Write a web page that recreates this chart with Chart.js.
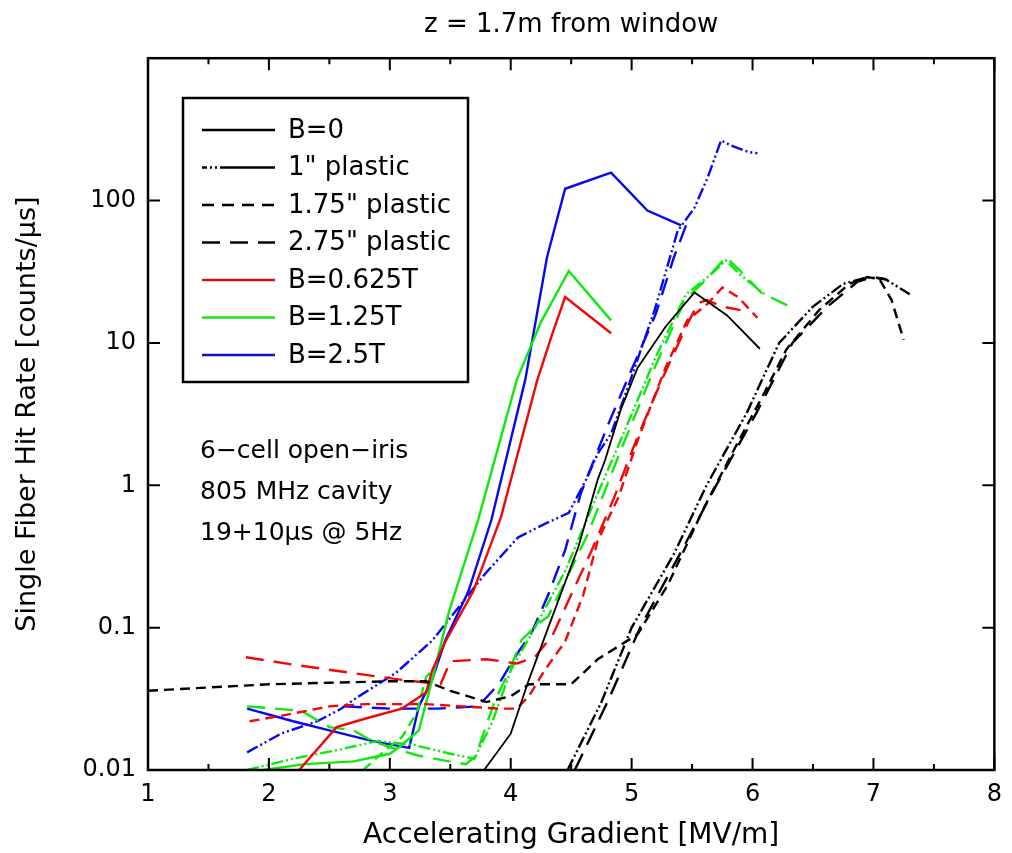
<!DOCTYPE html>
<html><head><meta charset="utf-8">
<script src="https://cdn.jsdelivr.net/npm/chart.js@4"></script>
<style>html,body{margin:0;padding:0;background:#fff}canvas{display:block}</style>
</head><body>
<canvas id="c" width="1012" height="853"></canvas>
<script>
const chartTitle = 'z = 1.7m from window';
const xTitle = 'Accelerating Gradient [MV/m]';
const yTitle = 'Single Fiber Hit Rate [counts/\u03bcs]';
const xTickValues = [1,2,3,4,5,6,7,8];
const xMinorTickValues = [1.5,2.5,3.5,4.5,5.5,6.5,7.5];
const yTickValues = [0.01,0.1,1,10,100];
const yTickLabels = ['0.01','0.1','1','10','100'];
const noteLines = ['6\u2212cell open\u2212iris','805 MHz cavity','19+10\u03bcs @ 5Hz'];
const legendLabels = ['B=0','1" plastic','1.75" plastic','2.75" plastic','B=0.625T','B=1.25T','B=2.5T'];

// Black (B=0)
const k0X = [3.78,4.0,4.15,4.29,4.56,4.72,4.78,4.91,5.05,5.28,5.52,5.79,6.06];
const k0Y = [0.01,0.018,0.043,0.09,0.37,1.1,1.5,3.4,6.7,13,22.6,15.6,9.1];
const k1X = [4.47,4.75,5.0,5.35,5.62,5.95,6.22,6.5,6.75,6.95,7.1,7.3];
const k1Y = [0.01,0.03,0.1,0.33,1.0,3.2,10,18,26,29,28,22];
const k2X = [1.0,1.5,2.0,2.5,3.0,3.3,3.5,3.8,4.0,4.15,4.5,4.72,5.05,5.3,5.6,5.85,6.1,6.28,6.55,6.8,6.95,7.05,7.15,7.25];
const k2Y = [0.036,0.038,0.04,0.041,0.042,0.042,0.036,0.03,0.033,0.04,0.04,0.06,0.09,0.2,0.7,1.8,4.5,9,17,26,29,28,20,10.5];
const k3X = [4.53,4.8,5.07,5.4,5.7,6.03,6.33,6.62,6.87,7.0,7.1];
const k3Y = [0.01,0.03,0.1,0.33,1.0,3.2,10,18,27,29,28];
// Red (B=0.625T)
const r0X = [2.25,2.56,2.8,3.1,3.3,3.35,3.46,3.69,3.92,4.22,4.35,4.45,4.83];
const r0Y = [0.01,0.02,0.023,0.027,0.035,0.05,0.08,0.18,0.6,5.5,12,21,11.7];
const r2X = [1.84,2.1,2.5,2.8,3.3,3.6,3.9,4.05,4.15,4.28,4.45,4.6,4.72,4.89,5.05,5.28,5.46,5.63,5.75,5.88,6.04];
const r2Y = [0.022,0.024,0.028,0.029,0.029,0.028,0.027,0.027,0.033,0.05,0.08,0.17,0.41,0.82,2.07,6.7,14.4,18.9,24.5,21,15];
const r3X = [1.81,2.2,2.69,3.1,3.42,3.5,3.8,4.05,4.2,4.35,4.5,4.67,4.85,5.05,5.25,5.45,5.55,5.62,5.75,5.9];
const r3Y = [0.062,0.055,0.048,0.043,0.04,0.058,0.06,0.056,0.062,0.09,0.17,0.35,0.8,2.2,5.5,13,19,20,18,17];
// Green (B=1.25T)
const g0X = [1.95,2.3,2.7,3.0,3.08,3.24,3.35,3.49,3.73,4.05,4.25,4.48,4.83];
const g0Y = [0.01,0.011,0.0115,0.013,0.0145,0.019,0.043,0.13,0.57,5.5,14,32,14.4];
const g1X = [1.82,2.2,2.6,2.9,3.2,3.5,3.7,3.85,4.0,4.2,4.45,4.7,4.95,5.2,5.45,5.65,5.78,5.9,6.1];
const g1Y = [0.01,0.012,0.014,0.016,0.015,0.013,0.012,0.022,0.05,0.1,0.25,0.8,2.5,8,22,30,38,30,22];
const g2X = [2.78,2.95,3.1,3.22,3.3,3.35];
const g2Y = [0.01,0.0135,0.017,0.025,0.045,0.05];
const g3X = [1.82,2.05,2.27,2.5,2.7,2.85,3.0,3.24,3.49,3.63,3.71,3.87,3.98,4.09,4.23,4.31,4.64,4.91,5.19,5.44,5.6,5.78,5.9,6.07,6.29];
const g3Y = [0.028,0.027,0.026,0.02,0.019,0.016,0.0145,0.0126,0.0115,0.011,0.0125,0.031,0.048,0.082,0.107,0.12,0.46,1.76,6.7,20,27,40,32,22.6,18.3];
// Blue (B=2.5T)
const b0X = [1.82,2.2,2.5,2.85,3.16,3.24,3.35,3.46,3.65,3.84,4.12,4.3,4.45,4.83,5.13,5.41];
const b0Y = [0.027,0.022,0.019,0.016,0.0143,0.028,0.043,0.082,0.18,0.57,5.5,40,121,157,85,67];
const b1X = [1.82,2.1,2.4,2.6,2.72,3.05,3.35,3.6,3.79,4.06,4.29,4.48,4.62,4.72,4.83,4.97,5.19,5.38,5.52,5.63,5.74,5.82,5.96,6.04];
const b1Y = [0.0133,0.018,0.022,0.027,0.032,0.048,0.081,0.15,0.24,0.43,0.54,0.64,1.08,1.67,2.3,4.9,17,61,89,146,265,244,220,215];
const b3X = [2.62,3.0,3.4,3.73,3.9,4.05,4.17,4.31,4.45,4.58,4.8,5.0,5.2,5.35,5.45];
const b3Y = [0.028,0.027,0.027,0.028,0.04,0.065,0.091,0.17,0.35,0.88,2.6,6.5,16,40,67];

const BLACK = '#000000', RED = '#f00808', GREEN = '#10e810', BLUE = '#0808f0';
const DASH_SOLID = [], DASH_DD = [12,3,2,3,2,3], DASH_SHORT = [10,6], DASH_LONG = [18,10];
const legendColors = [BLACK,BLACK,BLACK,BLACK,'#d01010','#20e020','#1010c8'];
const legendDashes = [DASH_SOLID,[5,3,2,3,2,3,80,0],[12,8],[18,10],DASH_SOLID,DASH_SOLID,DASH_SOLID];

const FONT = "'DejaVu Sans', sans-serif";
function pts(xs, ys){ return xs.map((x,i)=>({x:x, y:ys[i]})); }
function ds(label, xs, ys, color, dash, width){
  return {label, data: pts(xs, ys), borderColor: color, backgroundColor: color,
    borderDash: dash, borderWidth: width || 2.4, showLine: true, pointRadius: 0, tension: 0, fill: false};
}
const datasets = [
  ds('B=0', k0X, k0Y, BLACK, DASH_SOLID, 1.8),
  ds('1" plastic', k1X, k1Y, BLACK, DASH_DD),
  ds('1.75" plastic', k2X, k2Y, BLACK, DASH_SHORT),
  ds('2.75" plastic', k3X, k3Y, BLACK, DASH_LONG),
  ds('B=0.625T', r0X, r0Y, RED, DASH_SOLID),
  ds('B=0.625T 1.75"', r2X, r2Y, RED, DASH_SHORT),
  ds('B=0.625T 2.75"', r3X, r3Y, RED, DASH_LONG),
  ds('B=1.25T', g0X, g0Y, GREEN, DASH_SOLID),
  ds('B=1.25T 1"', g1X, g1Y, GREEN, DASH_DD),
  ds('B=1.25T 1.75"', g2X, g2Y, GREEN, DASH_SHORT),
  ds('B=1.25T 2.75"', g3X, g3Y, GREEN, DASH_LONG),
  ds('B=2.5T', b0X, b0Y, BLUE, DASH_SOLID),
  ds('B=2.5T 1"', b1X, b1Y, BLUE, DASH_DD),
  ds('B=2.5T 2.75"', b3X, b3Y, BLUE, DASH_LONG)
];

const framePlugin = {
  id: 'frame',
  afterDraw(chart){
    const {ctx, chartArea: a, scales: {x, y}} = chart;
    ctx.save();
    ctx.strokeStyle = '#000'; ctx.lineWidth = 2.5; ctx.setLineDash([]);
    ctx.strokeRect(a.left, a.top, a.right - a.left, a.bottom - a.top);
    ctx.lineWidth = 2;
    ctx.beginPath();
    const tick = (v, len) => { const px = x.getPixelForValue(v);
      ctx.moveTo(px, a.bottom); ctx.lineTo(px, a.bottom - len);
      ctx.moveTo(px, a.top); ctx.lineTo(px, a.top + len); };
    xTickValues.forEach(v => tick(v, 12));
    xMinorTickValues.forEach(v => tick(v, 6));
    yTickValues.forEach(v => { const py = y.getPixelForValue(v);
      ctx.moveTo(a.left, py); ctx.lineTo(a.left + 12, py);
      ctx.moveTo(a.right, py); ctx.lineTo(a.right - 12, py); });
    ctx.stroke();
    ctx.restore();
  }
};

const legendPlugin = {
  id: 'boxLegend',
  afterDatasetsDraw(chart){
    const ctx = chart.ctx;
    const L = 183, T = 98, R = 468, B = 382;
    ctx.save();
    ctx.fillStyle = '#fff';
    ctx.fillRect(L, T, R - L, B - T);
    ctx.strokeStyle = '#000'; ctx.lineWidth = 2.5; ctx.setLineDash([]);
    ctx.strokeRect(L, T, R - L, B - T);
    ctx.font = '26px ' + FONT;
    ctx.textBaseline = 'middle'; ctx.textAlign = 'left';
    legendLabels.forEach((lab, i) => {
      const yy = 130 + i * 37.5;
      ctx.strokeStyle = legendColors[i]; ctx.lineWidth = 2.4;
      ctx.setLineDash(legendDashes[i]);
      ctx.beginPath(); ctx.moveTo(202, yy); ctx.lineTo(275, yy); ctx.stroke();
      ctx.fillStyle = '#000';
      ctx.fillText(lab, 288, yy + 1);
    });
    ctx.setLineDash([]);
    ctx.font = '25px ' + FONT;
    noteLines.forEach((t, i) => ctx.fillText(t, 200, 451 + i * 41));
    ctx.restore();
  }
};

new Chart(document.getElementById('c'), {
  type: 'scatter',
  data: { datasets },
  options: {
    responsive: false, animation: false, devicePixelRatio: 1,
    layout: { padding: { left: 0, right: 14, top: 0, bottom: 0 } },
    plugins: {
      legend: { display: false },
      tooltip: { enabled: false },
      title: { display: true, text: chartTitle, color: '#000', fullSize: false,
        font: { family: FONT, size: 26, weight: 'normal' }, padding: { top: 10, bottom: 17 } }
    },
    scales: {
      x: {
        type: 'linear', min: 1, max: 8,
        afterBuildTicks: s => { s.ticks = xTickValues.map(v => ({ value: v })); },
        afterFit: s => { s.height = 83; },
        ticks: { color: '#000', font: { family: FONT, size: 24 }, padding: 10, maxRotation: 0,
          callback: v => String(v) },
        grid: { display: false, drawTicks: false },
        border: { display: false },
        title: { display: true, text: xTitle, color: '#000', font: { family: FONT, size: 28 },
          padding: { top: 0, bottom: 0 } }
      },
      y: {
        type: 'logarithmic', min: 0.01, max: 1000,
        afterBuildTicks: s => { s.ticks = yTickValues.map(v => ({ value: v })); },
        afterFit: s => { s.width = 148; },
        ticks: { color: '#000', font: { family: FONT, size: 24 }, padding: 12,
          callback: (v, i) => yTickLabels[i] },
        grid: { display: false, drawTicks: false },
        border: { display: false },
        title: { display: true, text: yTitle, color: '#000', font: { family: FONT, size: 27 },
          padding: { top: 12, bottom: 0 } }
      }
    }
  },
  plugins: [framePlugin, legendPlugin]
});
</script>
</body></html>
